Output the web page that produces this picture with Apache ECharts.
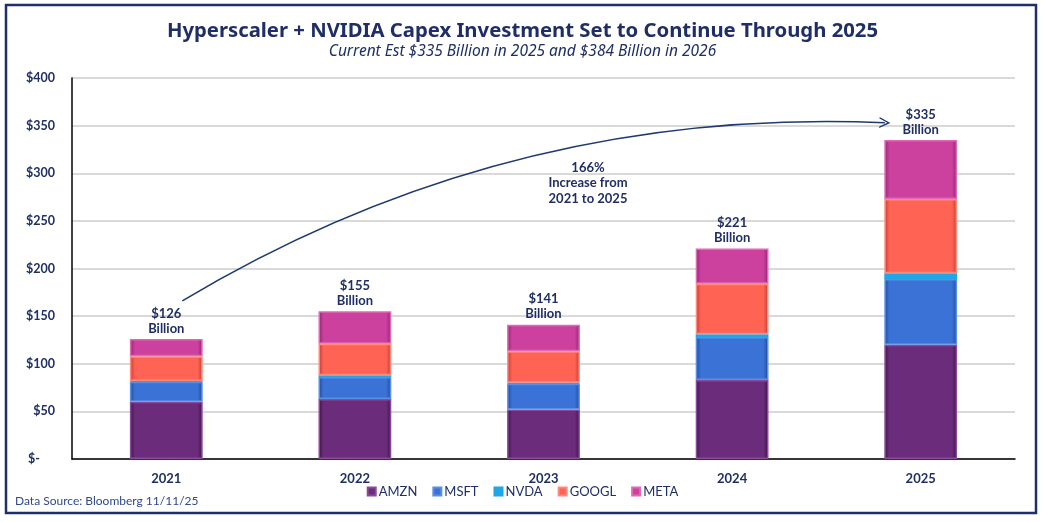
<!DOCTYPE html>
<html>
<head>
    <meta charset="UTF-8"/>
    <title>Hyperscaler + NVIDIA Capex</title>
    <style>
        html, body{
            margin: 0;
            background: #fff;
        }
    </style>
    <script src="https://cdn.jsdelivr.net/npm/echarts@6/dist/echarts.min.js"></script>
</head>
<body>
<div id="container" style="width: 1045px;height: 522px;"></div>

<script>
  // values in $ billions
  var years = ['2021', '2022', '2023', '2024', '2025'];
  var amzn  = [60, 63, 52, 83, 120];
  var msft  = [21, 23, 27, 45, 69];
  var nvda  = [1, 2, 1, 3, 6];
  var googl = [26, 33, 33, 53, 78];
  var meta  = [18, 34, 28, 37, 62];
  var yTicks = [0, 50, 100, 150, 200, 250, 300, 350, 400];

  // curved arrow from 2021 to 2025 (x = category index, y = $bn)
  var arrowFrom = [0.085, 166];
  var arrowTo = [3.81, 353];

  var navy = '#1F2F66';
  var totals = years.map(function (y, i) {
      return amzn[i] + msft[i] + nvda[i] + googl[i] + meta[i];
  });

  function bevel(base, dark) {
      return new echarts.graphic.LinearGradient(0, 0, 1, 0, [
          {offset: 0, color: dark},
          {offset: 0.07, color: base},
          {offset: 0.93, color: base},
          {offset: 1, color: dark}
      ]);
  }

  function barSeries(name, values, base, dark, edge) {
      return {
          name: name,
          type: 'bar',
          stack: 'capex',
          barWidth: '38.6%',
          data: values,
          color: base,
          itemStyle: {
              color: bevel(base, dark),
              borderColor: edge,
              borderWidth: 1.5
          }
      };
  }

  var dom = document.getElementById('container');
  var myChart = echarts.init(dom);

  var series = [
      barSeries('AMZN', amzn, '#6B2D7B', '#3E1248', '#8A4A9A'),
      barSeries('MSFT', msft, '#3A72D6', '#1F4A9A', '#5A8FE6'),
      barSeries('NVDA', nvda, '#1FA6E6', '#1FA6E6', '#1FA6E6'),
      barSeries('GOOGL', googl, '#FF6354', '#C23A30', '#FF8A7C'),
      barSeries('META', meta, '#CC409E', '#8E2670', '#E068B8')
  ];
  series[4].label = {
      show: true,
      position: 'top',
      distance: 3,
      color: navy,
      fontFamily: 'Lato',
      fontWeight: 'bold',
      fontSize: 13,
      lineHeight: 15,
      formatter: function (p) {
          return '$' + totals[p.dataIndex] + '\nBillion';
      }
  };
  series.push({
      type: 'lines',
      coordinateSystem: 'cartesian2d',
      xAxisIndex: 1,
      yAxisIndex: 0,
      z: 5,
      symbol: ['none', 'path://M0,10 L5,0 L10,10 L8.6,10 L5,2.8 L1.4,10 Z'],
      symbolSize: 11,
      lineStyle: {color: '#1F3A70', width: 1.6, curveness: 0.15, opacity: 1},
      data: [{coords: [arrowFrom, arrowTo]}]
  });

  var option = {
      animation: false,
      title: {
          text: 'Hyperscaler + NVIDIA Capex Investment Set to Continue Through 2025',
          subtext: 'Current Est $335 Billion in 2025 and $384 Billion in 2026',
          left: 'center',
          top: 16,
          itemGap: 3,
          textStyle: {
              color: navy,
              fontFamily: 'Noto Sans',
              fontWeight: 'bold',
              fontSize: 20.3
          },
          subtextStyle: {
              color: navy,
              fontFamily: 'Noto Sans',
              fontStyle: 'italic',
              fontSize: 15.5
          }
      },
      legend: {
          data: ['AMZN', 'MSFT', 'NVDA', 'GOOGL', 'META'],
          bottom: 19,
          left: 'center',
          icon: 'rect',
          itemWidth: 8,
          itemHeight: 8,
          itemGap: 15,
          textStyle: {
              color: navy,
              fontFamily: 'Lato',
              fontSize: 13,
              padding: [0, 0, 0, -2]
          }
      },
      grid: {
          left: 72,
          right: 30,
          top: 78,
          bottom: 63
      },
      xAxis: [{
          type: 'category',
          data: years,
          axisTick: {show: false},
          axisLine: {lineStyle: {color: '#000', width: 1.5}},
          axisLabel: {
              color: navy,
              fontFamily: 'Lato',
              fontWeight: 'bold',
              fontSize: 13,
              margin: 13
          }
      }, {
          type: 'value',
          min: -0.5,
          max: 4.5,
          show: false
      }],
      yAxis: {
          type: 'value',
          min: yTicks[0],
          max: yTicks[yTicks.length - 1],
          interval: 50,
          axisLine: {show: true, onZero: false, lineStyle: {color: '#000', width: 1.5}},
          axisTick: {show: false},
          splitLine: {lineStyle: {color: '#D9D9D9', width: 2}},
          axisLabel: {
              color: navy,
              fontFamily: 'Lato',
              fontWeight: 'bold',
              fontSize: 12.5,
              margin: 17,
              formatter: function (v) {
                  return v === 0 ? '$-     ' : '$' + v;
              }
          }
      },
      graphic: [
          {
              type: 'rect',
              silent: true,
              shape: {x: 6, y: 5, width: 1030, height: 508},
              style: {fill: null, stroke: '#1F2F6B', lineWidth: 2.5}
          },
          {
              type: 'text',
              x: 588,
              y: 160,
              style: {
                  text: '166%\nIncrease from\n2021 to 2025',
                  textAlign: 'center',
                  fill: navy,
                  font: 'bold 13px Lato',
                  lineHeight: 15.5
              }
          },
          {
              type: 'text',
              x: 15,
              y: 495,
              style: {
                  text: 'Data Source: Bloomberg 11/11/25',
                  fill: '#2F4A8A',
                  font: '12px Lato'
              }
          }
      ],
      series: series
  };
  myChart.setOption(option);
</script>

</body>
</html>
